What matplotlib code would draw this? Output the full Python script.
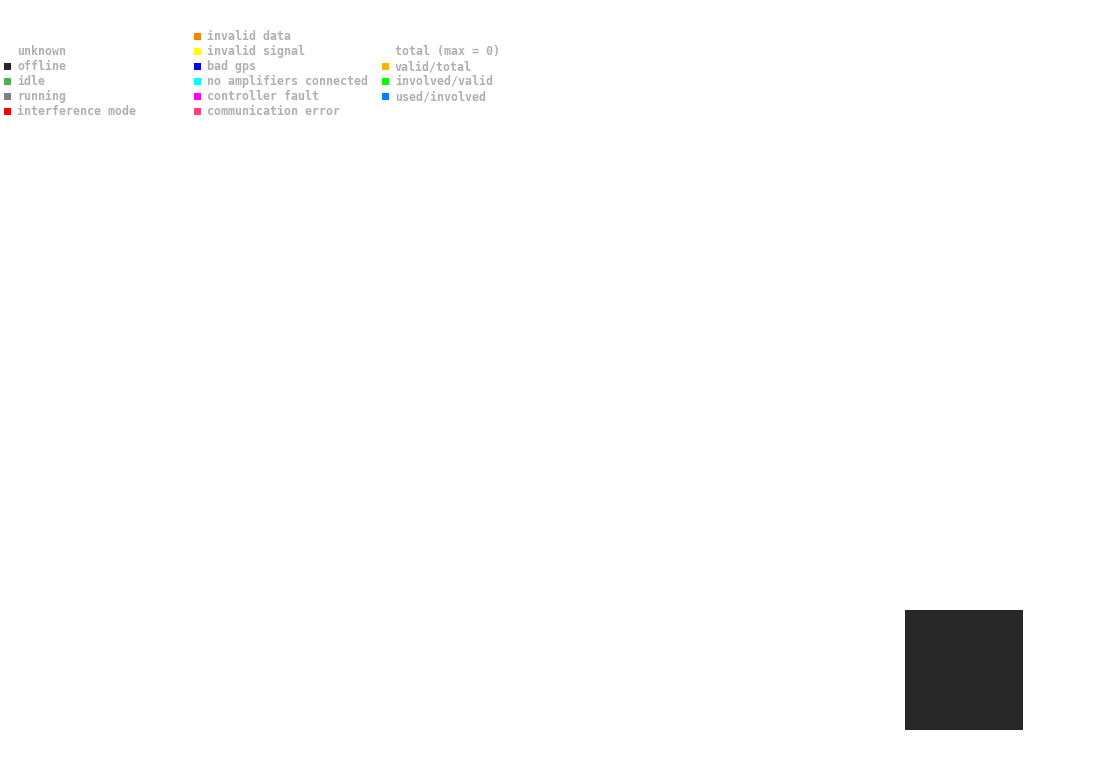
import matplotlib.pyplot as plt
from matplotlib.patches import Rectangle
from matplotlib.transforms import Affine2D

W, H = 1095, 764

# legend columns: (label, colour or None)
status_labels = ['unknown', 'offline', 'idle', 'running', 'interference mode']
status_colors = [None, '#262626', '#4caf50', '#808080', '#ff0000']

error_labels = ['invalid data', 'invalid signal', 'bad gps', 'no amplifiers connected',
                'controller fault', 'communication error']
error_colors = ['#ff7f00', '#ffff00', '#0000ff', '#00ffff', '#ff00ff', '#ff4080']

ratio_labels = ['total (max = 0)', 'valid/total', 'involved/valid', 'used/involved']
ratio_colors = [None, '#ffb300', '#00ff00', '#0080ff']

fig = plt.figure(figsize=(W / 100, H / 100), dpi=100)
fig.patch.set_facecolor('white')

# pixel coords, origin top-left
px = Affine2D().scale(1, -1).translate(0, H) + fig.dpi_scale_trans.inverted() + \
    Affine2D().scale(1 / (W / 100), 1 / (H / 100)) + fig.transFigure


def legend_column(labels, colors, x0, y0):
    for i, (lab, col) in enumerate(zip(labels, colors)):
        y = y0 + i * 15
        if col is not None:
            fig.patches.append(Rectangle((x0, y - 3.5), 7, 7, facecolor=col,
                                         edgecolor='none', transform=px))
        fig.text(x0 + 13, y + 4, lab, transform=px, va='baseline', ha='left',
                 family='DejaVu Sans Mono', weight='bold', fontsize=8.4, color='#b0b0b0')


legend_column(status_labels, status_colors, 4, 51)
legend_column(error_labels, error_colors, 194, 36)
legend_column(ratio_labels, ratio_colors, 382, 51)

# dark empty plot area
ax = fig.add_axes([905 / W, (H - 730) / H, 118 / W, 120 / H])
ax.set_facecolor('#282828')
ax.set_xticks([])
ax.set_yticks([])
for s in ax.spines.values():
    s.set_visible(False)

fig.savefig('out.png', dpi=100)
